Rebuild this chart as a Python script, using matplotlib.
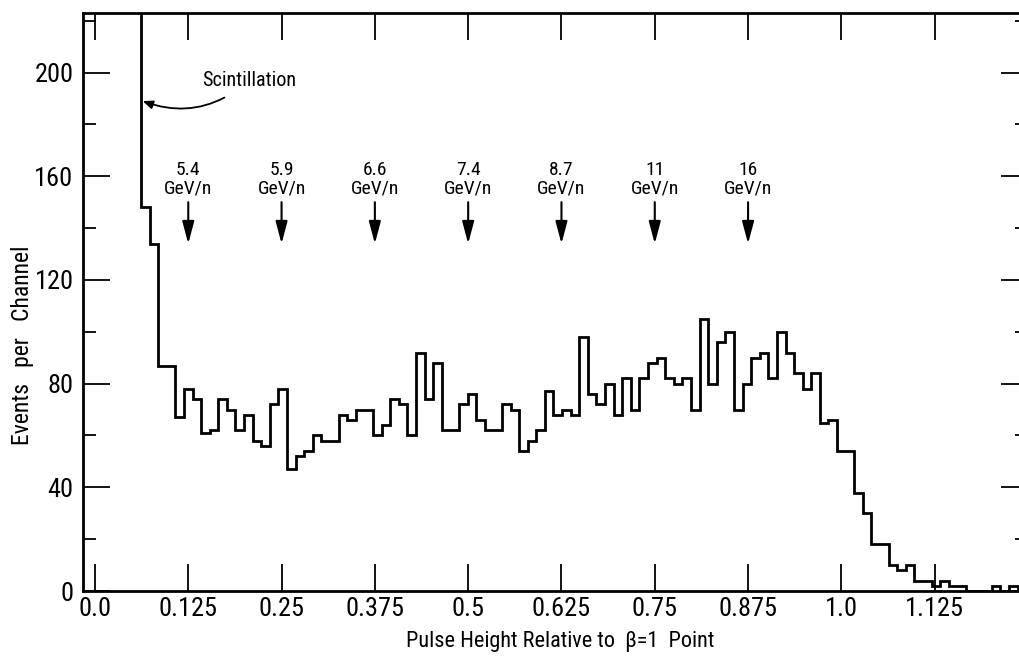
import numpy as np
import matplotlib
matplotlib.use('Agg')
import matplotlib.pyplot as plt
from matplotlib.ticker import MultipleLocator

plt.rcParams['font.family'] = ['Roboto Condensed', 'DejaVu Sans Condensed',
                               'Liberation Sans Narrow', 'Liberation Sans', 'DejaVu Sans']

# histogram: events per channel (first channel is the off-scale scintillation peak)
counts = [400,
          148, 134, 87, 87, 67, 78, 74, 61, 62, 74, 70, 62, 68, 58,
          56, 72, 78, 47, 52, 54, 60, 58, 58, 68, 66, 70, 70, 60, 64,
          74, 72, 60, 92, 74, 88, 62, 62, 72, 76, 66, 62, 62, 72, 70,
          54, 58, 62, 77, 68, 70, 68, 98, 76, 72, 80, 68, 82, 70, 82,
          88, 90, 82, 80, 82, 70, 105, 80, 96, 100, 70, 80, 90, 92, 82,
          100, 92, 84, 78, 84, 65, 66, 54, 54, 38, 30, 18, 18, 10, 8,
          10, 4, 4, 2, 4, 2, 2, 0, 0, 0, 2, 0, 2, 0]
first_edge = 0.0501
channel_width = 0.011514

# energy markers
energy_pos = [0.125, 0.25, 0.375, 0.5, 0.625, 0.75, 0.875]
energy_labels = ['5.4', '5.9', '6.6', '7.4', '8.7', '11', '16']

xticks = [0.0, 0.125, 0.25, 0.375, 0.5, 0.625, 0.75, 0.875, 1.0, 1.125]
xtick_labels = ['0.0', '0.125', '0.25', '0.375', '0.5', '0.625', '0.75', '0.875', '1.0', '1.125']
yticks = [0, 40, 80, 120, 160, 200]

edges = first_edge + channel_width * np.arange(len(counts) + 1)

fig = plt.figure(figsize=(10.19, 6.66), dpi=100)
ax = fig.add_axes([0.0817, 0.1126, 0.9271, 0.8679])

ax.stairs(counts, edges, baseline=None, color='black', lw=2)

ax.set_xlim(-0.0157, 1.25)
ax.set_ylim(0, 223)

for s in ax.spines.values():
    s.set_linewidth(2)

ax.set_xticks(xticks)
ax.set_xticklabels(xtick_labels)
ax.set_yticks(yticks)
ax.yaxis.set_minor_locator(MultipleLocator(20))
ax.tick_params(which='major', direction='in', length=19.5, width=1.3,
               top=True, right=True, labelsize=19)
ax.tick_params(which='minor', direction='in', length=9.5, width=1.3,
               left=True, right=True, top=False, bottom=False)
ax.tick_params(axis='x', pad=4)
ax.tick_params(axis='y', pad=7)
ax.xaxis.set_minor_locator(plt.NullLocator())

ax.set_xlabel('Pulse Height Relative to  β=1  Point', fontsize=16)
ax.xaxis.set_label_coords(0.505, -0.07)
ax.set_ylabel('Events   per   Channel', fontsize=17, va='center')
ax.yaxis.set_label_coords(-0.064, 0.4256)

for x, lab in zip(energy_pos, energy_labels):
    ax.text(x, 152, lab + '\nGeV/n', ha='center', va='bottom', fontsize=14,
            linespacing=1.0)
    ax.annotate('', xy=(x, 134), xytext=(x, 150),
                arrowprops=dict(arrowstyle='-|>,head_length=1.35,head_width=0.36',
                                color='black', lw=1.5, mutation_scale=10,
                                shrinkA=0, shrinkB=0))

ax.annotate('Scintillation', xy=(0.0639, 189), xytext=(0.206, 197),
            ha='center', va='center', fontsize=14.5,
            arrowprops=dict(arrowstyle='-|>,head_length=0.6,head_width=0.25',
                            color='black', lw=1.3, mutation_scale=10,
                            shrinkA=7, shrinkB=0,
                            connectionstyle='arc3,rad=-0.3'))

fig.savefig('out.png', dpi=100)
